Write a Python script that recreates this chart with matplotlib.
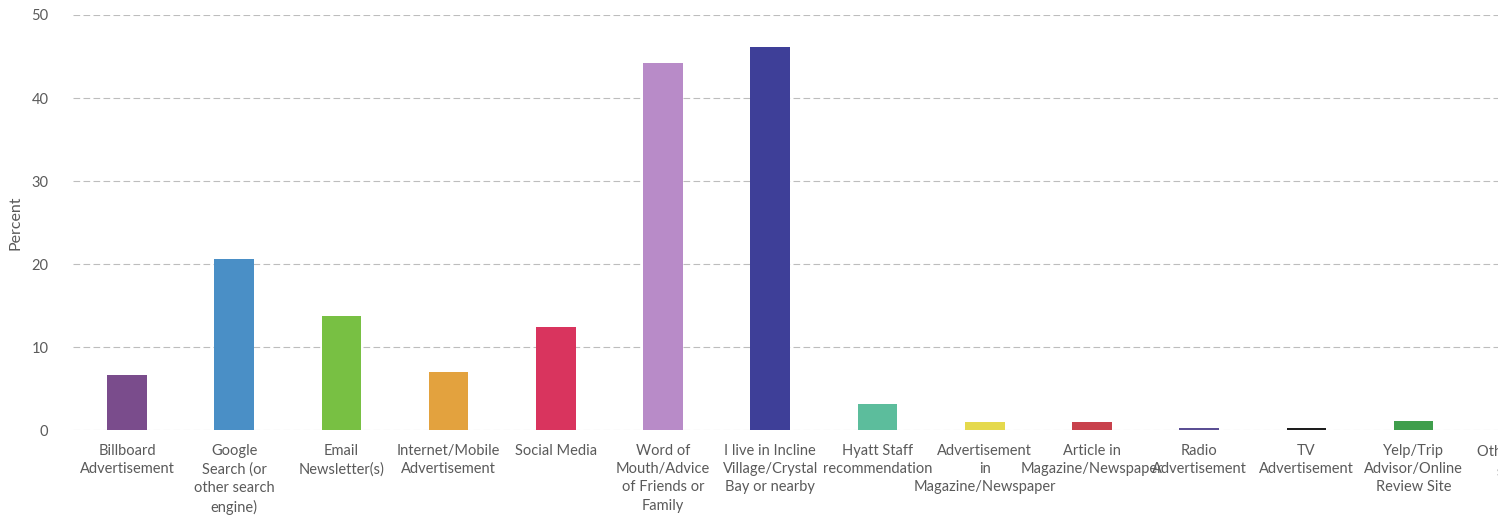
import matplotlib
matplotlib.use("Agg")
import matplotlib.pyplot as plt

# answers to "how did you hear about us", percent of respondents
categories = [
    "Billboard\nAdvertisement",
    "Google\nSearch (or\nother search\nengine)",
    "Email\nNewsletter(s)",
    "Internet/Mobile\nAdvertisement",
    "Social Media",
    "Word of\nMouth/Advice\nof Friends or\nFamily",
    "I live in Incline\nVillage/Crystal\nBay or nearby",
    "Hyatt Staff\nrecommendation",
    "Advertisement\nin\nMagazine/Newspaper",
    "Article in\nMagazine/Newspaper",
    "Radio\nAdvertisement",
    "TV\nAdvertisement",
    "Yelp/Trip\nAdvisor/Online\nReview Site",
    "Other (please\nspecify)",
]
percent = [6.7, 20.6, 13.7, 7.0, 12.4, 44.2, 46.1, 3.2, 1.0, 1.0, 0.2, 0.25, 1.1, 0.0]
colors = ["#7a4c8c", "#4a8fc6", "#78c043", "#e3a23e", "#d9345e", "#b88bc8",
          "#3e3f98", "#5cbd9c", "#e5d94c", "#c8414c", "#5b4f94", "#1e1e1e",
          "#3f9e4c", "#999999"]

plt.rcParams["font.family"] = ["Lato", "DejaVu Sans"]

fig = plt.figure(figsize=(14.98, 5.17), dpi=100)
# axes runs a little past the right edge, so the last label is cut off
ax = fig.add_axes([0.049, 0.168, 1.002, 0.803])

x = range(len(categories))
ax.bar(x, percent, width=0.37, color=colors, zorder=3)

ax.set_xlim(-0.5, len(categories) - 0.5)
ax.set_ylim(0, 50)
ax.set_yticks([0, 10, 20, 30, 40, 50])
ax.set_xticks(list(x))
ax.set_xticklabels(categories, fontsize=10.5, color="#5a5a5a", linespacing=1.38)
ax.tick_params(axis="y", labelsize=10.5, labelcolor="#5a5a5a", length=0, pad=18)
ax.tick_params(axis="x", length=0, pad=10)
for s in ax.spines.values():
    s.set_visible(False)

ax.grid(axis="y", color="#bdbdbd", linestyle=(0, (6, 3)), linewidth=0.8, zorder=0)
ax.set_ylabel("Percent", fontsize=11.5, color="#5a5a5a", labelpad=6)

fig.savefig("out.png", dpi=100)
